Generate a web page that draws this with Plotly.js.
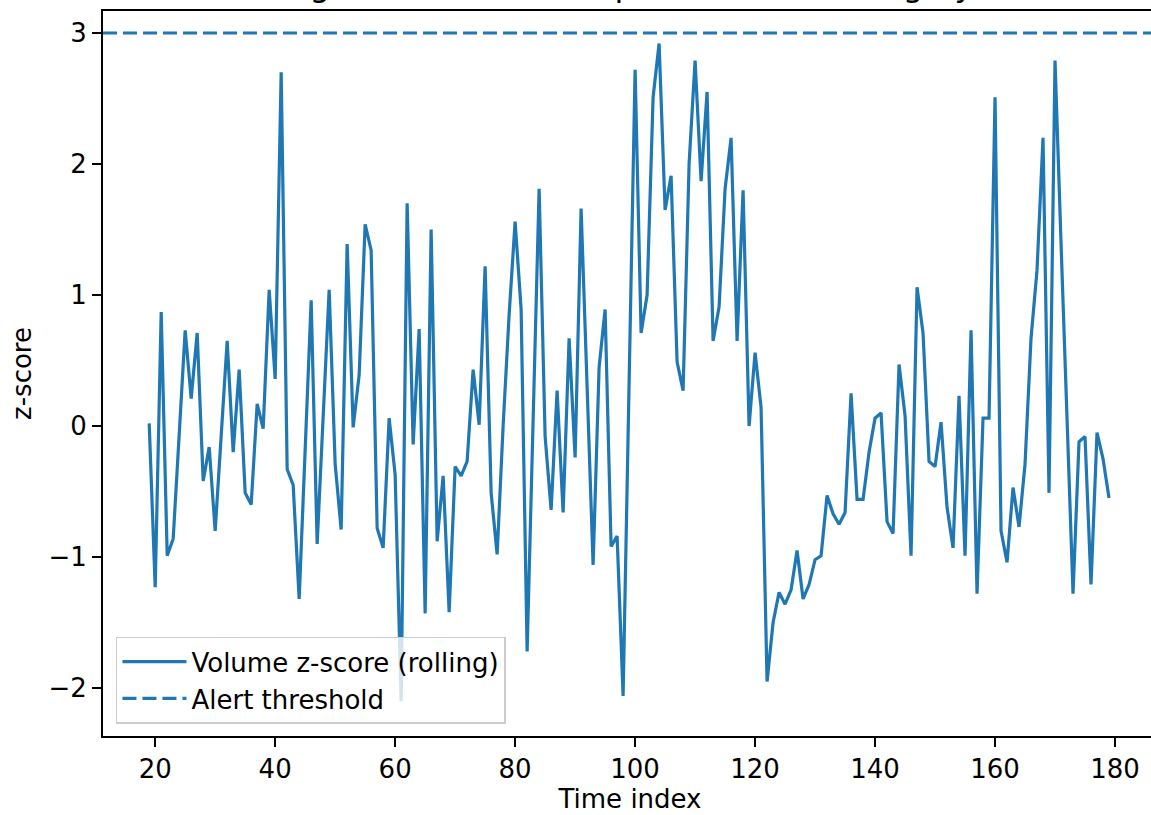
<!DOCTYPE html>
<html>
<head>
<meta charset="utf-8">
<script src="https://cdn.plot.ly/plotly-3.0.1.min.js"></script>
<style>
  html, body { margin: 0; padding: 0; overflow: hidden; background: #ffffff; }
  #chart { width: 1160px; height: 815px; }
</style>
</head>
<body>
<div id="chart"></div>
<script>
// ---- data ----
const timeIndex = [
  19, 20, 21, 22, 23, 24, 25, 26, 27, 28,
  29, 30, 31, 32, 33, 34, 35, 36, 37, 38,
  39, 40, 41, 42, 43, 44, 45, 46, 47, 48,
  49, 50, 51, 52, 53, 54, 55, 56, 57, 58,
  59, 60, 61, 62, 63, 64, 65, 66, 67, 68,
  69, 70, 71, 72, 73, 74, 75, 76, 77, 78,
  79, 80, 81, 82, 83, 84, 85, 86, 87, 88,
  89, 90, 91, 92, 93, 94, 95, 96, 97, 98,
  99, 100, 101, 102, 103, 104, 105, 106, 107, 108,
  109, 110, 111, 112, 113, 114, 115, 116, 117, 118,
  119, 120, 121, 122, 123, 124, 125, 126, 127, 128,
  129, 130, 131, 132, 133, 134, 135, 136, 137, 138,
  139, 140, 141, 142, 143, 144, 145, 146, 147, 148,
  149, 150, 151, 152, 153, 154, 155, 156, 157, 158,
  159, 160, 161, 162, 163, 164, 165, 166, 167, 168,
  169, 170, 171, 172, 173, 174, 175, 176, 177, 178,
  179
];
const volumeZScore = [
  0.02, -1.23, 0.87, -0.99, -0.86, -0.08, 0.73, 0.21, 0.71, -0.42,
  -0.16, -0.80, -0.08, 0.65, -0.20, 0.43, -0.51, -0.60, 0.17, -0.02,
  1.04, 0.36, 2.70, -0.33, -0.45, -1.32, -0.18, 0.96, -0.90, 0.07,
  1.04, -0.29, -0.79, 1.39, -0.01, 0.39, 1.54, 1.34, -0.78, -0.93,
  0.06, -0.37, -2.10, 1.70, -0.14, 0.74, -1.43, 1.50, -0.88, -0.38,
  -1.42, -0.31, -0.38, -0.27, 0.43, 0.01, 1.22, -0.51, -0.98, 0.00,
  0.85, 1.56, 0.89, -1.72, 0.05, 1.81, -0.08, -0.64, 0.27, -0.66,
  0.67, -0.24, 1.66, 0.30, -1.06, 0.45, 0.89, -0.92, -0.84, -2.06,
  0.30, 2.72, 0.71, 1.00, 2.51, 2.92, 1.65, 1.91, 0.49, 0.27,
  2.00, 2.79, 1.87, 2.55, 0.65, 0.91, 1.81, 2.20, 0.65, 1.80,
  0.00, 0.56, 0.14, -1.95, -1.50, -1.27, -1.36, -1.25, -0.95, -1.32,
  -1.21, -1.02, -0.99, -0.53, -0.67, -0.75, -0.66, 0.25, -0.56, -0.56,
  -0.20, 0.06, 0.10, -0.73, -0.82, 0.47, 0.08, -0.99, 1.06, 0.71,
  -0.27, -0.31, 0.03, -0.62, -0.93, 0.23, -0.99, 0.73, -1.28, 0.06,
  0.06, 2.51, -0.80, -1.04, -0.47, -0.77, -0.29, 0.67, 1.19, 2.20,
  -0.51, 2.79, 1.40, 0.00, -1.28, -0.12, -0.08, -1.21, -0.05, -0.25,
  -0.55
];
const alertThreshold = 3;
const seriesNames = ["Volume z-score (rolling)", "Alert threshold"];
const xTickValues = [20, 40, 60, 80, 100, 120, 140, 160, 180];
const yTickValues = [-2, -1, 0, 1, 2, 3];
const chartTitle = "Unusual trading volume z-score spikes near warning by time index";
const xLabel = "Time index";
const yLabel = "z-score";

// ---- styling / layout ----
const lineColor = "#1f77b4";
const fontFamily = "'DejaVu Sans', 'Liberation Sans', sans-serif";
const baseFont = 26;
const xRange = [11.3, 187];
const yRange = [-2.366, 3.168];

const traces = [
  {
    x: timeIndex,
    y: volumeZScore,
    type: "scatter",
    mode: "lines",
    name: seriesNames[0],
    line: { color: lineColor, width: 3.2 }
  },
  {
    x: xRange,
    y: [alertThreshold, alertThreshold],
    type: "scatter",
    mode: "lines",
    name: seriesNames[1],
    line: { color: lineColor, width: 3.2, dash: "14px,6px" }
  }
];

const axisCommon = {
  showline: true,
  linecolor: "#000000",
  linewidth: 2,
  mirror: true,
  ticks: "outside",
  ticklen: 9,
  tickwidth: 2,
  tickcolor: "#000000",
  showgrid: false,
  zeroline: false,
  tickfont: { family: fontFamily, size: baseFont, color: "#000000" }
};

const layout = {
  width: 1160,
  height: 815,
  paper_bgcolor: "#ffffff",
  plot_bgcolor: "#ffffff",
  margin: { l: 103, r: 3, t: 11, b: 79 },
  font: { family: fontFamily, size: baseFont, color: "#000000" },
  title: {
    text: chartTitle,
    font: { family: fontFamily, size: 32.5, color: "#000000" },
    xref: "container",
    x: 614 / 1160,
    xanchor: "center",
    yref: "paper",
    y: 1,
    yanchor: "bottom",
    pad: { b: 15 }
  },
  xaxis: Object.assign({}, axisCommon, {
    range: xRange,
    tickmode: "array",
    tickvals: xTickValues,
    title: { text: xLabel, font: { family: fontFamily, size: baseFont, color: "#000000" }, standoff: 7 }
  }),
  yaxis: Object.assign({}, axisCommon, {
    range: yRange,
    tickmode: "array",
    tickvals: yTickValues,
    title: { text: yLabel, font: { family: fontFamily, size: baseFont, color: "#000000" }, standoff: 9 }
  }),
  showlegend: true,
  legend: {
    x: 0.0123,
    y: 0.137,
    xanchor: "left",
    yanchor: "top",
    bgcolor: "rgba(255,255,255,0.8)",
    bordercolor: "#cccccc",
    borderwidth: 1.5,
    font: { family: fontFamily, size: baseFont, color: "#000000" },
    itemwidth: 64,
    tracegroupgap: 0
  }
};

Plotly.newPlot("chart", traces, layout, { displayModeBar: false, responsive: false });
</script>
</body>
</html>
